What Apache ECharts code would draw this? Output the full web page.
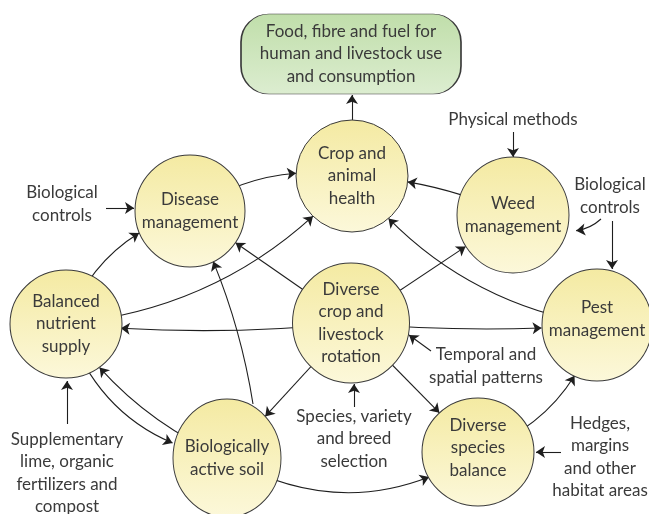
<!DOCTYPE html>
<html>
<head>
<meta charset="utf-8">
<script src="https://cdn.jsdelivr.net/npm/echarts@6/dist/echarts.min.js"></script>
<style>
  html, body { margin: 0; padding: 0; background: #fff; }
  #chart { width: 649px; height: 514px; }
</style>
</head>
<body>
<div id="chart"></div>
<script>
// boxes of the diagram
const boxIds = ['food', 'crop', 'disease', 'weed', 'nutrient', 'rotation', 'pest', 'soil', 'species'];
const boxText = [
    'Food, fibre and fuel for\nhuman and livestock use\nand consumption',
    'Crop and\nanimal\nhealth',
    'Disease\nmanagement',
    'Weed\nmanagement',
    'Balanced\nnutrient\nsupply',
    'Diverse\ncrop and\nlivestock\nrotation',
    'Pest\nmanagement',
    'Biologically\nactive soil',
    'Diverse\nspecies\nbalance'
];
const boxX = [351, 352, 190, 513, 66, 351, 597, 227, 478];
const boxY = [54, 176, 211, 215, 324, 323, 325, 458, 452];

// free text around the boxes
const noteText = [
    'Physical methods',
    'Biological\ncontrols',
    'Biological\ncontrols',
    'Temporal and\nspatial patterns',
    'Species, variety\nand breed\nselection',
    'Supplementary\nlime, organic\nfertilizers and\ncompost',
    'Hedges,\nmargins\nand other\nhabitat areas'
];
const noteX = [513, 62, 610, 486, 354, 67, 600];
const noteY = [120, 204, 196, 366, 439, 473, 457];

// loose arrow ends
const endIds = ['foodEdge', 'soilTop', 'p1a', 'p1b', 'p2a', 'p2b', 'p3a', 'p3b', 'p4a', 'p4b', 'p5a', 'p5b', 'p6a', 'p6b', 'p7a', 'p7b', 'p8a', 'p8b'];
const endX = [352, 253, 513, 513, 106, 134, 601, 569, 612, 612, 431, 409, 354, 354, 67, 67, 561, 536];
const endY = [95, 404, 132, 157, 208, 208, 219, 231, 221, 269, 351, 335, 407, 384, 424, 381, 452, 452];

// arrows
const linkFrom = ['crop', 'disease', 'weed', 'nutrient', 'nutrient', 'rotation', 'pest', 'rotation', 'rotation', 'rotation', 'rotation', 'rotation', 'soilTop', 'nutrient', 'soil', 'soil', 'species',
    'p1a', 'p2a', 'p3a', 'p4a', 'p5a', 'p6a', 'p7a', 'p8a'];
const linkTo = ['foodEdge', 'crop', 'crop', 'disease', 'crop', 'disease', 'crop', 'nutrient', 'pest', 'weed', 'soil', 'species', 'disease', 'soil', 'nutrient', 'species', 'pest',
    'p1b', 'p2b', 'p3b', 'p4b', 'p5b', 'p6b', 'p7b', 'p8b'];
const linkCurve = [0, 0.2, -0.1, 0.25, -0.2, 0, 0.2, 0.05, -0.04, 0, 0, 0, -0.08, -0.3, 0.15, -0.3, -0.25,
    0, 0, 0.2, 0, 0, 0, 0, 0];

const chart = echarts.init(document.getElementById('chart'));

const ellipse = 'path://M0,50A50,50,0,1,1,100,50A50,50,0,1,1,0,50Z';
const pill = 'path://M28,0H192A28,28,0,0,1,220,28V52A28,28,0,0,1,192,80H28A28,28,0,0,1,0,52V28A28,28,0,0,1,28,0Z';
const boxSize = {
    food: [220, 80], crop: [112, 112], disease: [110, 112], weed: [112, 116], nutrient: [112, 108],
    rotation: [117, 120], pest: [110, 112], soil: [108, 118], species: [112, 108]
};
const labelShift = { pest: [0, -6], species: [0, -4] };

const yellow = new echarts.graphic.LinearGradient(0, 0, 0, 1, [
    { offset: 0, color: '#f4eaa2' },
    { offset: 1, color: '#fcf8da' }
]);
const green = new echarts.graphic.LinearGradient(0, 0, 0, 1, [
    { offset: 0, color: '#c0deaa' },
    { offset: 1, color: '#dcedd0' }
]);

const nodes = [];
boxIds.forEach((id, i) => {
    nodes.push({
        name: id,
        value: [boxX[i], boxY[i]],
        symbol: id === 'food' ? pill : ellipse,
        symbolSize: boxSize[id],
        itemStyle: { color: id === 'food' ? green : yellow, borderColor: '#3a3a3a', borderWidth: 1 },
        label: { show: true, formatter: boxText[i], offset: labelShift[id] || [0, 0] }
    });
});
noteText.forEach((t, i) => {
    nodes.push({
        name: 'note' + i,
        value: [noteX[i], noteY[i]],
        symbolSize: 1,
        itemStyle: { color: 'rgba(0,0,0,0)' },
        label: { show: true, formatter: t }
    });
});
endIds.forEach((id, i) => {
    nodes.push({
        name: id,
        value: [endX[i], endY[i]],
        symbolSize: 0,
        itemStyle: { color: 'rgba(0,0,0,0)' },
        label: { show: false }
    });
});

const links = linkFrom.map((s, i) => ({
    source: s,
    target: linkTo[i],
    lineStyle: { curveness: linkCurve[i] }
}));

chart.setOption({
    backgroundColor: '#ffffff',
    animation: false,
    grid: { left: 0, right: 0, top: 0, bottom: 0 },
    xAxis: { type: 'value', min: 0, max: 649, show: false },
    yAxis: { type: 'value', min: 0, max: 514, inverse: true, show: false },
    series: [{
        type: 'graph',
        coordinateSystem: 'cartesian2d',
        silent: true,
        edgeSymbol: ['none', 'arrow'],
        edgeSymbolSize: 9,
        data: nodes,
        links: links,
        lineStyle: { color: '#1e1e1e', width: 1.1, opacity: 1 },
        label: {
            show: true,
            position: 'inside',
            color: '#3a3a3a',
            fontFamily: 'Lato',
            fontSize: 17,
            lineHeight: 22.5
        }
    }]
});
</script>
</body>
</html>
